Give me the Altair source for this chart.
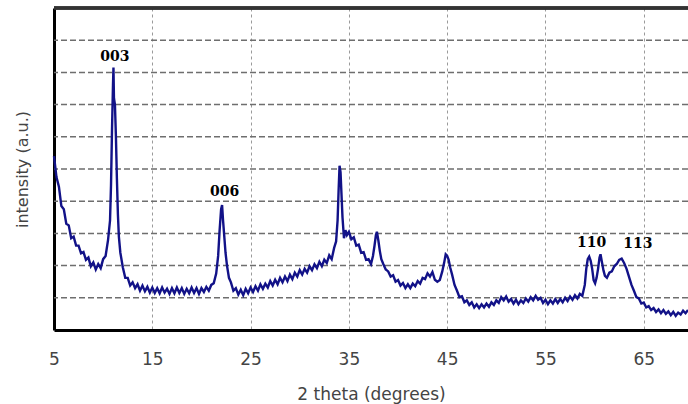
import altair as alt
import pandas as pd

two_theta = [
    5.00, 5.25, 5.50, 5.75, 6.00, 6.25, 6.50, 6.75, 7.00, 7.25, 7.50, 7.75,
    8.00, 8.25, 8.50, 8.75, 9.00, 9.25, 9.50, 9.75,
    10.00, 10.25, 10.50, 10.70, 10.80, 10.90, 11.00, 11.05, 11.10, 11.20, 11.30, 11.40, 11.50, 11.60, 11.75,
    12.00, 12.25, 12.50, 12.75, 13.00, 13.25, 13.50, 13.75, 14.00, 14.25, 14.50, 14.75,
    15.00, 15.25, 15.50, 15.75, 16.00, 16.25, 16.50, 16.75, 17.00, 17.25, 17.50, 17.75,
    18.00, 18.25, 18.50, 18.75, 19.00, 19.25, 19.50, 19.75, 20.00, 20.25, 20.50, 20.75,
    21.00, 21.25, 21.50, 21.70, 21.85, 22.00, 22.10, 22.20, 22.30, 22.45, 22.60, 22.80,
    23.00, 23.25, 23.50, 23.75, 24.00, 24.25, 24.50, 24.75,
    25.00, 25.25, 25.50, 25.75, 26.00, 26.25, 26.50, 26.75, 27.00, 27.25, 27.50, 27.75,
    28.00, 28.25, 28.50, 28.75, 29.00, 29.25, 29.50, 29.75, 30.00, 30.25, 30.50, 30.75,
    31.00, 31.25, 31.50, 31.75, 32.00, 32.25, 32.50, 32.75,
    33.00, 33.25, 33.50, 33.70, 33.85, 33.95, 34.05, 34.15, 34.25, 34.35, 34.50, 34.65, 34.80,
    35.00, 35.25, 35.50, 35.75, 36.00, 36.25, 36.50, 36.75,
    37.00, 37.25, 37.45, 37.60, 37.75, 37.85, 38.00, 38.15, 38.30, 38.50, 38.75,
    39.00, 39.25, 39.50, 39.75, 40.00, 40.25, 40.50, 40.75, 41.00, 41.25, 41.50, 41.75,
    42.00, 42.25, 42.50, 42.75, 43.00, 43.25, 43.50, 43.75,
    44.00, 44.25, 44.50, 44.70, 44.85, 45.00, 45.15, 45.30, 45.50, 45.75,
    46.00, 46.25, 46.50, 46.75, 47.00, 47.25, 47.50, 47.75, 48.00, 48.25, 48.50, 48.75,
    49.00, 49.25, 49.50, 49.75, 50.00, 50.25, 50.50, 50.75, 51.00, 51.25, 51.50, 51.75,
    52.00, 52.25, 52.50, 52.75, 53.00, 53.25, 53.50, 53.75, 54.00, 54.25, 54.50, 54.75,
    55.00, 55.25, 55.50, 55.75, 56.00, 56.25, 56.50, 56.75, 57.00, 57.25, 57.50, 57.75,
    58.00, 58.25, 58.50, 58.75,
    59.00, 59.15, 59.30, 59.45, 59.60, 59.75, 59.90, 60.05, 60.20, 60.35, 60.50, 60.60, 60.75, 60.90, 61.05,
    61.25, 61.50, 61.75, 62.00, 62.25, 62.50, 62.75, 63.00, 63.25, 63.50, 63.75,
    64.00, 64.25, 64.50, 64.75, 65.00, 65.25, 65.50, 65.75, 66.00, 66.25, 66.50, 66.75,
    67.00, 67.25, 67.50, 67.75, 68.00, 68.25, 68.50, 68.75, 69.00, 69.25, 69.50,
]

intensity = [
    5.40, 4.75, 4.45, 3.85, 3.75, 3.30, 3.25, 2.85, 2.90, 2.62, 2.62, 2.38,
    2.42, 2.18, 2.25, 1.98, 2.10, 1.88, 2.05, 1.92,
    2.20, 2.30, 2.80, 3.40, 4.50, 6.20, 7.60, 8.15, 7.20, 7.00, 6.00, 4.70, 3.60, 2.90, 2.40,
    1.95, 1.62, 1.62, 1.38, 1.48, 1.30, 1.42, 1.22, 1.38, 1.20, 1.34, 1.16,
    1.32, 1.15, 1.30, 1.14, 1.32, 1.16, 1.28, 1.12, 1.30, 1.14, 1.32, 1.15,
    1.30, 1.12, 1.28, 1.14, 1.32, 1.15, 1.30, 1.12, 1.30, 1.18, 1.34, 1.22,
    1.40, 1.45, 1.75, 2.30, 3.10, 3.75, 3.88, 3.40, 3.00, 2.40, 2.00, 1.62,
    1.48, 1.22, 1.30, 1.10, 1.25, 1.08, 1.28, 1.14,
    1.32, 1.18, 1.36, 1.22, 1.42, 1.28, 1.44, 1.32, 1.52, 1.38, 1.56, 1.42,
    1.62, 1.48, 1.66, 1.52, 1.72, 1.58, 1.78, 1.66, 1.86, 1.72, 1.90, 1.78,
    1.98, 1.86, 2.04, 1.92, 2.12, 1.98, 2.18, 2.08,
    2.32, 2.20, 2.55, 2.75, 3.40, 4.30, 5.10, 4.90, 4.20, 3.50, 2.85, 3.10, 2.95,
    3.05, 2.82, 2.88, 2.62, 2.65, 2.40, 2.42, 2.18,
    2.20, 2.05, 2.30, 2.60, 2.95, 3.05, 2.78, 2.45, 2.20, 2.05, 1.88,
    1.82, 1.66, 1.70, 1.50, 1.55, 1.38, 1.46, 1.30, 1.42, 1.30, 1.44, 1.36,
    1.52, 1.44, 1.62, 1.58, 1.76, 1.66, 1.80, 1.56,
    1.50, 1.55, 1.82, 2.10, 2.35, 2.30, 2.18, 1.95, 1.72, 1.40,
    1.22, 1.02, 1.05, 0.86, 0.92, 0.78, 0.86, 0.70, 0.80, 0.68, 0.80, 0.70,
    0.82, 0.72, 0.86, 0.78, 0.92, 0.84, 1.02, 0.92, 1.04, 0.88, 0.96, 0.82,
    0.94, 0.80, 0.92, 0.84, 0.98, 0.88, 1.02, 0.92, 1.06, 0.94, 1.00, 0.84,
    0.94, 0.80, 0.92, 0.82, 0.96, 0.84, 0.96, 0.86, 1.00, 0.90, 1.04, 0.94,
    1.08, 0.98, 1.12, 1.06,
    1.40, 1.90, 2.20, 2.28, 2.15, 1.90, 1.55, 1.45, 1.62, 1.90, 2.25, 2.35, 2.10, 1.85, 1.68,
    1.62, 1.78, 1.82, 1.98, 2.05, 2.18, 2.22, 2.08, 1.90, 1.65, 1.40,
    1.22, 1.02, 0.98, 0.82, 0.85, 0.70, 0.74, 0.62, 0.68, 0.56, 0.64, 0.52,
    0.62, 0.50, 0.58, 0.46, 0.56, 0.44, 0.54, 0.48, 0.60, 0.52, 0.62,
]

assert len(two_theta) == len(intensity), (len(two_theta), len(intensity))

peak_labels = ["003", "006", "110", "113"]
peak_x = [11.2, 22.35, 59.7, 64.4]
peak_y = [8.48, 4.29, 2.70, 2.67]

x_ticks = [5, 15, 25, 35, 45, 55, 65]
y_grid = [1, 2, 3, 4, 5, 6, 7, 8, 9]

df = pd.DataFrame({"two_theta": two_theta, "intensity": intensity})
lab = pd.DataFrame({"two_theta": peak_x, "intensity": peak_y, "label": peak_labels})
grid_df = pd.DataFrame({"intensity": y_grid})

x_enc = alt.X(
    "two_theta:Q",
    scale=alt.Scale(domain=[5, 69.5], nice=False, zero=False),
    axis=alt.Axis(
        values=x_ticks, title="2 theta (degrees)", grid=True,
        gridDash=[3, 3], gridColor="#9a9a9a", gridWidth=1,
        domainColor="black", domainWidth=3, ticks=False,
        labelFont="DejaVu Sans", labelFontSize=17, labelColor="#444444",
        labelPadding=21, labelFlush=False,
        titleFont="DejaVu Sans", titleFontSize=17, titleFontWeight="normal",
        titleColor="#444444", titlePadding=19,
    ),
)
y_enc = alt.Y(
    "intensity:Q",
    scale=alt.Scale(domain=[0, 10], nice=False, zero=False),
    axis=alt.Axis(
        values=[0, 10], labels=False, ticks=False, grid=False,
        title="intensity (a.u.)",
        domainColor="black", domainWidth=3,
        titleFont="DejaVu Sans", titleFontSize=16, titleFontWeight="normal",
        titleColor="#444444", titlePadding=24,
    ),
)

hgrid = alt.Chart(grid_df).mark_rule(
    color="#6e6e6e", strokeWidth=1.5, strokeDash=[6, 3]
).encode(y=y_enc)

line = alt.Chart(df).mark_line(color="#121288", strokeWidth=2.4).encode(x=x_enc, y=y_enc)

text = alt.Chart(lab).mark_text(
    font="DejaVu Serif", fontWeight="bold", fontSize=14, color="black", baseline="middle"
).encode(x=x_enc, y=y_enc, text="label:N")

top = alt.Chart(grid_df).mark_rule(color="#333333", strokeWidth=2.5).encode(y=alt.datum(10))

chart = (
    alt.layer(hgrid, line, text, top)
    .properties(
        width=634, height=322, autosize="none",
        padding={"left": 54, "top": 8, "right": 0, "bottom": 74},
        background="white",
    )
    .configure_view(stroke=None)
)

chart.save("out.html", embed_options={"renderer": "svg", "actions": False})
